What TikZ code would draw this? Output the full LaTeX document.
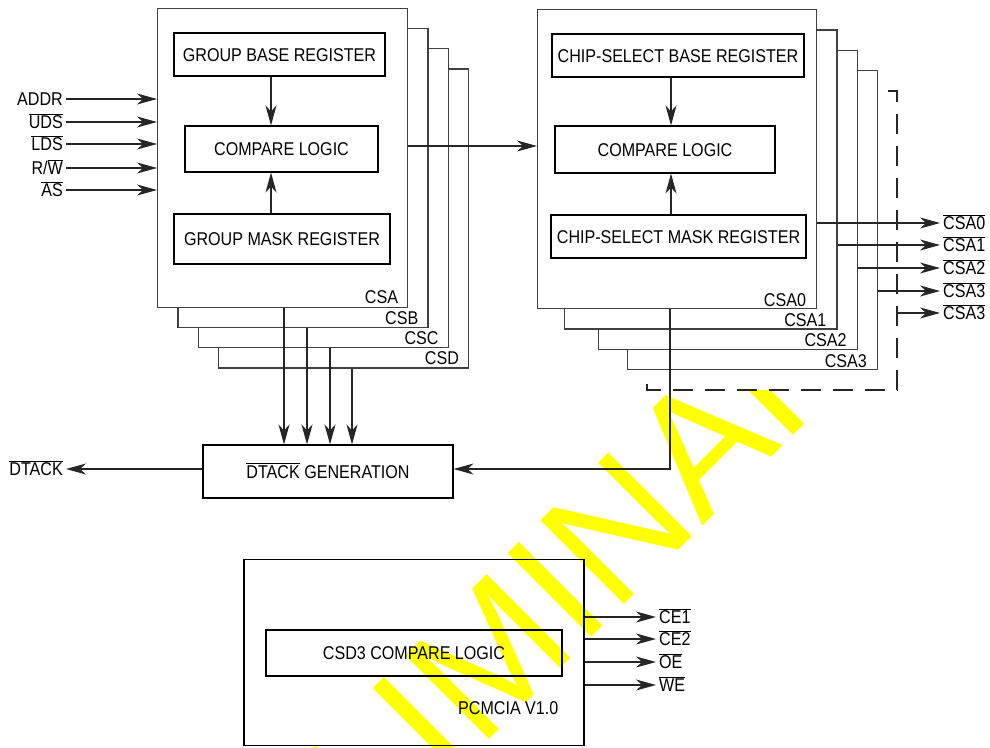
\documentclass[tikz,border=0pt]{standalone}
\usepackage{fontspec}
\setmainfont{Liberation Sans}[FakeStretch=0.87]
\newfontfamily\wmfont{Liberation Sans}
\usetikzlibrary{arrows.meta}
\newcommand{\ovl}[1]{$\overline{\mbox{#1}}$}
\tikzset{sig/.style = {-{Stealth[length=20pt, width=11pt, inset=6pt]}, draw=black!85, line width=1.1pt}}
\tikzset{card/.style = {draw=black!75, fill=white, line width=1.2pt, inner sep=0, anchor=north west}}
\tikzset{unit/.style = {draw, line width=1.1pt, inner sep=0, text height=13pt, text depth=0pt}}
\tikzset{sigtext/.style = {inner sep=0, text height=13pt, text depth=0pt}}
\tikzset{tag/.style = {inner sep=0, anchor=base east}}
\tikzset{fence/.style = {draw=black!85, line width=1.2pt, dash pattern=on 20pt off 12pt}}
\definecolor{wmyellow}{rgb}{1, 1, 0}

\begin{document}
\begin{tikzpicture}[x=1pt, y=-1pt, font=\fontsize{18.5}{21}\selectfont]
      \useasboundingbox (0,0) rectangle (990,747);

      % watermark
      \begin{scope}
        \clip (0,390) rectangle (990,747);
        \node [wmyellow, rotate=45, anchor=base west, inner sep=0,
               font=\wmfont\fontsize{172}{172}\selectfont] (wm) at (128,1101) {PRELIMINARY};
      \end{scope}

      % group stack
      \foreach \n/\i in {D/3, C/2, B/1, A/0} {
        \node [card, minimum width=250pt, minimum height=299pt] (cs\n) at (157+20.3*\i, 7.5+20.3*\i) {};
        \node [tag] at ([xshift=-10pt, yshift=4pt]cs\n.south east) {CS\n};
      }
      % chip-select stack
      \foreach \n/\l in {3/627, 2/598, 1/564, 0/537} {
        \node [card, minimum width={816+20.3*\n-\l}, minimum height=299pt] (csa\n) at (\l, 9+20.3*\n) {};
        \node [tag] at ([xshift=-11pt, yshift=3pt]csa\n.south east) {CSA\n};
      }

      \node [unit, minimum width=211pt, minimum height=43pt] (gbase) at (279.5,54.5) {GROUP BASE REGISTER};
      \node [unit, minimum width=193pt, minimum height=46pt] (gcmp) at (281.5,149) {COMPARE LOGIC};
      \node [unit, minimum width=216pt, minimum height=50pt] (gmask) at (282,239) {GROUP MASK REGISTER};

      \node [unit, minimum width=252pt, minimum height=43pt] (cbase) at (678,55.5) {CHIP-SELECT BASE REGISTER};
      \node [unit, minimum width=220pt, minimum height=47pt] (ccmp) at (665,149.5) {COMPARE LOGIC};
      \node [unit, minimum width=255pt, minimum height=43pt] (cmask) at (678.5,236.5) {CHIP-SELECT MASK REGISTER};

      \coordinate (gaxis) at (271,0);
      \coordinate (caxis) at (671,0);
      \draw [sig] (gbase.south -| gaxis) -- (gcmp.north -| gaxis);
      \draw [sig] (gmask.north -| gaxis) -- (gcmp.south -| gaxis);
      \draw [sig] (cbase.south -| caxis) -- (ccmp.north -| caxis);
      \draw [sig] (cmask.north -| caxis) -- (ccmp.south -| caxis);

      \coordinate (bus) at (0,146);
      \draw [sig] (csA.east |- bus) -- (csa0.west |- bus);

      % bus inputs
      \foreach \s/\y [count=\k] in {ADDR/99, \ovl{UDS}/122, \ovl{LDS}/144, {R/\ovl{W}}/168, \ovl{AS}/190} {
        \node [sigtext, anchor=east] (in\k) at (63,\y) {\s};
        \draw [sig] ([xshift=3pt]in\k.east) -- (csA.west |- in\k);
      }

      % chip-select outputs
      \draw [fence] (888,91) -- (897,91) -- (897,390) -- (647,390) -- (647,382);
      \coordinate (dashE) at (897,0);
      \foreach \s/\y/\src [count=\k from 0] in {CSA0/223/csa0.east, CSA1/245/csa1.east, CSA2/268/csa2.east,
                                                 CSA3/291/csa3.east, CSA3/313/dashE} {
        \node [sigtext, anchor=west] (out\k) at (943,\y) {\ovl{\s}};
        \draw [sig] (\src |- out\k) -- ([xshift=-3pt]out\k.west);
      }

      % dtack
      \node [unit, minimum width=250pt, minimum height=53pt] (dtack) at (328,471.5) {\ovl{DTACK} GENERATION};
      \node [sigtext, anchor=east] (ack) at (63,469) {\ovl{DTACK}};
      \draw [sig] (dtack.west |- ack) -- ([xshift=3pt]ack.east);
      \foreach \n/\x in {A/284, B/307, C/330, D/352} {
        \coordinate (tap\n) at (\x,0);
        \draw [sig] (cs\n.south -| tap\n) -- (dtack.north -| tap\n);
      }
      \coordinate (tapR) at (670,0);
      \draw [sig] (csa0.south -| tapR) |- (dtack.east |- ack);

      % pcmcia
      \node [draw, line width=1.1pt, inner sep=0, minimum width=340pt, minimum height=186pt] (pcm) at (414,652.5) {};
      \node [unit, minimum width=296pt, minimum height=46pt] (csd3) at (414,653) {CSD3 COMPARE LOGIC};
      \node [tag] at ([xshift=-26pt, yshift=32pt]pcm.south east) {PCMCIA V1.0};
      \foreach \s/\y [count=\k] in {CE1/617, CE2/639, OE/662, WE/685} {
        \node [sigtext, anchor=west] (pc\k) at (659,\y) {\ovl{\s}};
        \draw [sig] (pcm.east |- pc\k) -- ([xshift=-3pt]pc\k.west);
      }
\end{tikzpicture}
\end{document}
